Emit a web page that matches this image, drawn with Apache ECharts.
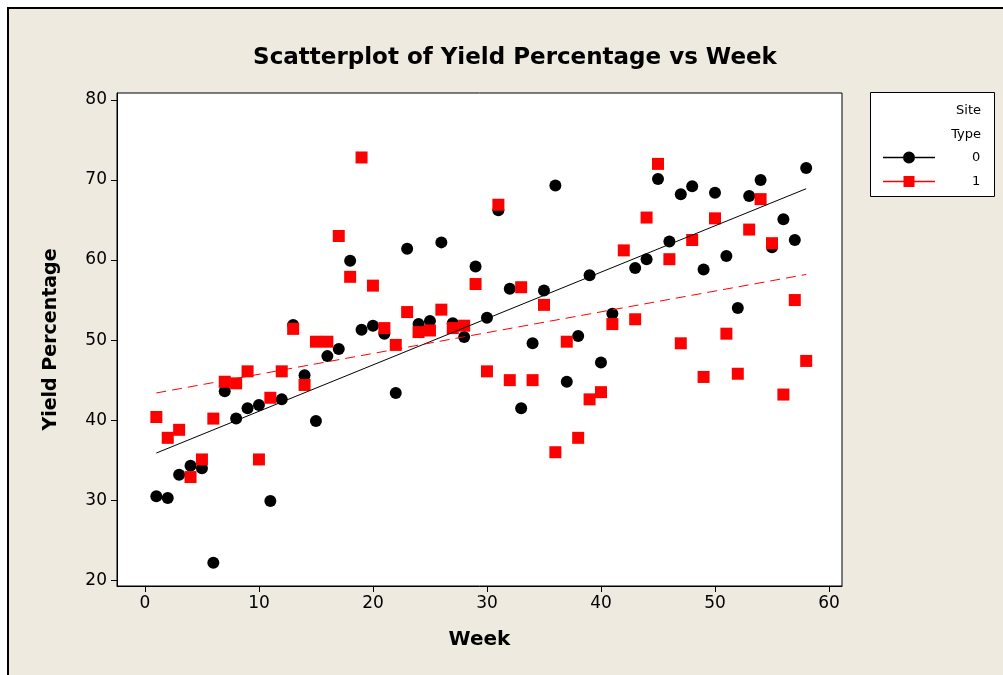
<!DOCTYPE html>
<html>
<head>
<meta charset="utf-8">
<script src="https://cdn.jsdelivr.net/npm/echarts@6/dist/echarts.min.js"></script>
<style>
  html, body { margin: 0; padding: 0; background: #fff; }
  #main { width: 1003px; height: 675px; }
</style>
</head>
<body>
<div id="main"></div>
<script>
// Site type 0 (black dots)
const weeks0 = [1, 2, 3, 4, 5, 6, 7, 8, 9, 10, 11, 12, 13, 14, 15, 16, 17, 18, 19, 20,
  21, 22, 23, 24, 25, 26, 27, 28, 29, 30, 31, 32, 33, 34, 35, 36, 37, 38, 39, 40,
  41, 43, 44, 45, 46, 47, 48, 49, 50, 51, 52, 53, 54, 55, 56, 57, 58]
const yield0 = [30.5, 30.3, 33.2, 34.3, 34.0, 22.2, 43.6, 40.2, 41.5, 41.9, 29.9, 42.6, 51.9, 45.6, 39.9, 48.0, 48.9, 59.9, 51.3, 51.8,
  50.8, 43.4, 61.4, 52.0, 52.4, 62.2, 52.1, 50.4, 59.2, 52.8, 66.2, 56.4, 41.5, 49.6, 56.2, 69.3, 44.8, 50.5, 58.1, 47.2,
  53.3, 59.0, 60.1, 70.1, 62.3, 68.2, 69.2, 58.8, 68.4, 60.5, 54.0, 68.0, 70.0, 61.6, 65.1, 62.5, 71.5]

// Site type 1 (red squares)
const weeks1 = [1, 2, 3, 4, 5, 6, 7, 8, 9, 10, 11, 12, 13, 14, 15, 16, 17, 18, 19, 20,
  21, 22, 23, 24, 25, 26, 27, 28, 29, 30, 31, 32, 33, 34, 35, 36, 37, 38, 39, 40,
  41, 42, 43, 44, 45, 46, 47, 48, 49, 50, 51, 52, 53, 54, 55, 56, 57, 58]
const yield1 = [40.4, 37.8, 38.8, 32.9, 35.1, 40.2, 44.8, 44.6, 46.1, 35.1, 42.8, 46.1, 51.4, 44.4, 49.8, 49.8, 63.0, 57.9, 72.8, 56.8,
  51.5, 49.4, 53.5, 51.0, 51.2, 53.8, 51.5, 51.8, 57.0, 46.1, 66.9, 45.0, 56.6, 45.0, 54.4, 36.0, 49.8, 37.8, 42.6, 43.5,
  52.0, 61.2, 52.6, 65.3, 72.0, 60.1, 49.6, 62.5, 45.4, 65.2, 50.8, 45.8, 63.8, 67.6, 62.1, 43.2, 55.0, 47.4]

// fitted lines, read at the two ends
const fit0 = [[1, 35.9], [58, 68.9]]
const fit1 = [[1, 43.4], [58, 58.2]]

const xTicks = [0, 10, 20, 30, 40, 50, 60]
const yTicks = [20, 30, 40, 50, 60, 70, 80]

const pairs = (xs, ys) => xs.map((x, i) => [x, ys[i]])

const iconDot = 'path://M0,5.3H20V6.7H0Z M32,5.3H52V6.7H32Z M20,6A6,6 0 1,0 32,6A6,6 0 1,0 20,6Z'
const iconSquare = 'path://M0,5.3H20.5V6.7H0Z M31.5,5.3H52V6.7H31.5Z M20.5,0.5H31.5V11.5H20.5Z'

const chart = echarts.init(document.getElementById('main'))
chart.setOption({
  animation: false,
  backgroundColor: '#fff',
  graphic: [
    {
      type: 'rect', z: -10,
      shape: { x: 8, y: 8, width: 1100, height: 700 },
      style: { fill: '#eeeae0', stroke: '#000', lineWidth: 2 }
    },
    {
      type: 'rect', z: -5,
      shape: { x: 870.5, y: 92.5, width: 124, height: 104 },
      style: { fill: '#fff', stroke: '#000', lineWidth: 1 }
    },
    {
      type: 'text', right: 22, top: 104,
      style: { text: 'Site', font: '13px "DejaVu Sans"', fill: '#000', align: 'right' }
    },
    {
      type: 'text', right: 22, top: 128,
      style: { text: 'Type', font: '13px "DejaVu Sans"', fill: '#000', align: 'right' }
    }
  ],
  title: {
    text: 'Scatterplot of Yield Percentage vs Week',
    left: 510, textAlign: 'center', top: 42,
    textStyle: { fontFamily: 'DejaVu Sans', fontWeight: 'bold', fontSize: 23, color: '#000' }
  },
  legend: {
    data: [{ name: '0', icon: iconDot }, { name: '1', icon: iconSquare }],
    orient: 'vertical',
    left: 878, top: 146,
    itemWidth: 52, itemHeight: 12, itemGap: 11,
    textStyle: { fontFamily: 'DejaVu Sans', fontSize: 13, color: '#000', padding: [0, 0, 0, 32] },
    selectedMode: false
  },
  grid: {
    left: 117, right: 161, top: 93, bottom: 89,
    show: true, backgroundColor: '#fff', borderColor: '#000', borderWidth: 1
  },
  xAxis: {
    type: 'value', min: -2.45, max: 61.14,
    name: 'Week', nameLocation: 'middle', nameGap: 44,
    nameTextStyle: { fontFamily: 'DejaVu Sans', fontWeight: 'bold', fontSize: 20, color: '#000' },
    axisLine: { show: true, onZero: false, lineStyle: { color: '#000', width: 1 } },
    axisTick: { show: true, length: 6, lineStyle: { color: '#000' }, customValues: xTicks },
    axisLabel: { customValues: xTicks, fontFamily: 'DejaVu Sans', fontSize: 17, color: '#000', margin: 9 },
    splitLine: { show: false }
  },
  yAxis: {
    type: 'value', min: 19.3, max: 80.85,
    name: 'Yield Percentage', nameLocation: 'middle', nameGap: 56,
    nameTextStyle: { fontFamily: 'DejaVu Sans', fontWeight: 'bold', fontSize: 19, color: '#000' },
    axisLine: { show: true, onZero: false, lineStyle: { color: '#000', width: 1 } },
    axisTick: { show: true, length: 6, lineStyle: { color: '#000' }, customValues: yTicks },
    axisLabel: { customValues: yTicks, fontFamily: 'DejaVu Sans', fontSize: 17, color: '#000', margin: 10 },
    splitLine: { show: false }
  },
  series: [
    {
      name: '0', type: 'scatter', symbol: 'circle', symbolSize: 12,
      itemStyle: { color: '#000', opacity: 1 },
      data: pairs(weeks0, yield0)
    },
    {
      name: '1', type: 'scatter', symbol: 'rect', symbolSize: 12,
      itemStyle: { color: '#ff0000', opacity: 1 },
      data: pairs(weeks1, yield1)
    },
    {
      name: 'fit0', type: 'line', symbol: 'none', silent: true,
      lineStyle: { color: '#000', width: 1 },
      data: fit0
    },
    {
      name: 'fit1', type: 'line', symbol: 'none', silent: true,
      lineStyle: { color: '#ff0000', width: 1, type: [10, 6] },
      data: fit1
    }
  ]
})
</script>
</body>
</html>
